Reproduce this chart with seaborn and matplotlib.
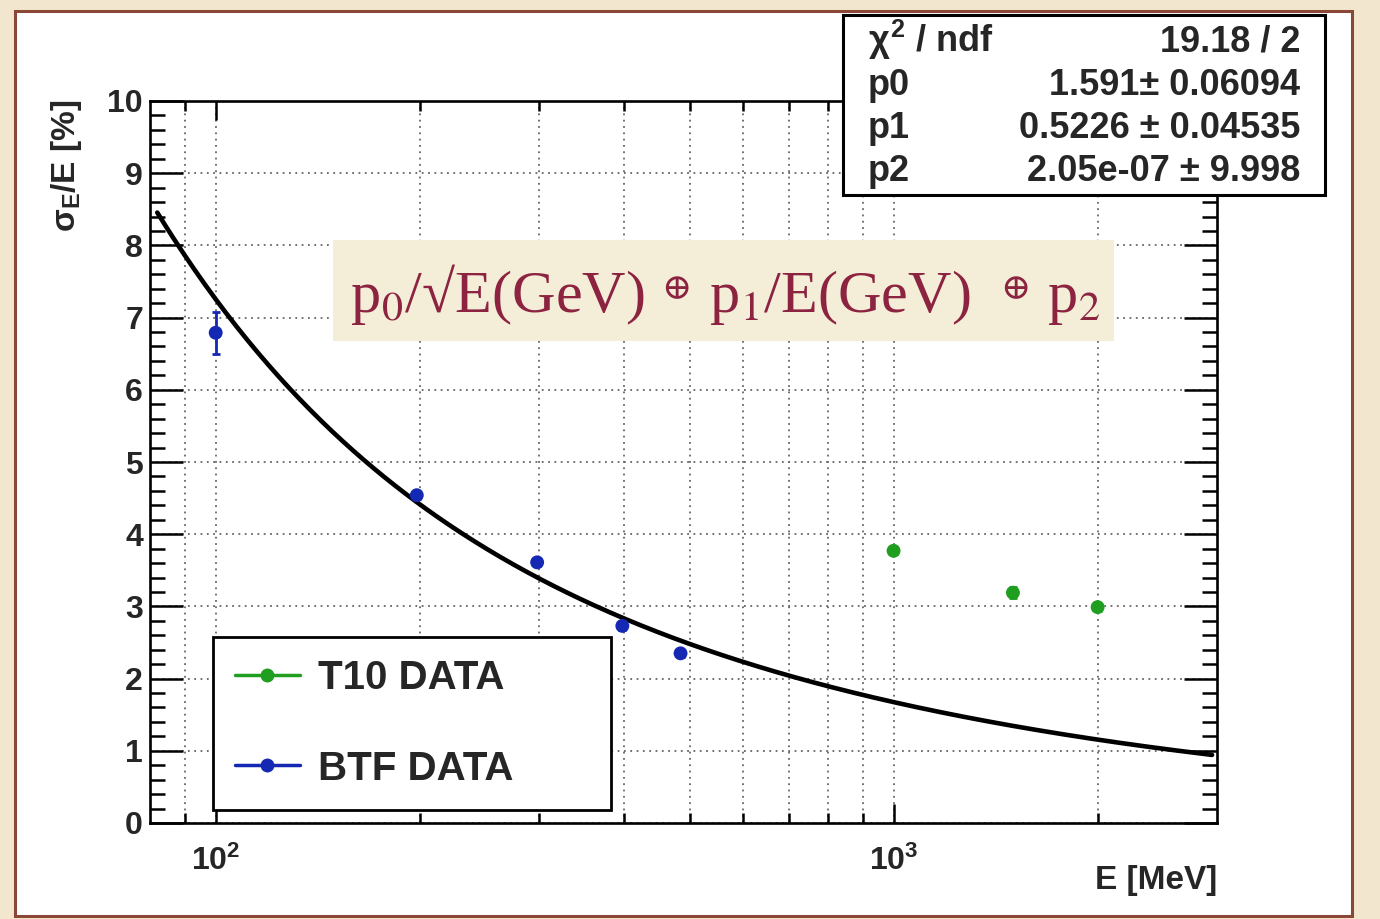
import numpy as np
import pandas as pd
import matplotlib
matplotlib.use("Agg")
import matplotlib.pyplot as plt
from matplotlib.patches import Rectangle
from matplotlib.lines import Line2D
from matplotlib.ticker import FixedLocator, FixedFormatter, MultipleLocator, NullFormatter
import seaborn as sns

# ---- measured energy resolution ----
t10_energy = [1000, 1500, 2000]          # MeV
t10_res = [3.77, 3.19, 2.99]             # sigma_E/E [%]
t10_err = [0.05, 0.08, 0.05]

btf_energy = [100, 198, 298, 398, 485]   # MeV
btf_res = [6.79, 4.54, 3.61, 2.73, 2.35]
btf_err = [0.29, 0.05, 0.05, 0.05, 0.05]

# ---- fit result: p0/sqrt(E) (+) p1/E (+) p2, E in GeV ----
fit_names = ["p0", "p1", "p2"]
fit_values = [1.591, 0.5226, 2.05e-07]
fit_value_text = ["1.591", "0.5226 ", "2.05e-07 "]
fit_error_text = ["0.06094", "0.04535", "9.998"]
chi2_text = "19.18 / 2"
fit_range = (82, 2950)                   # MeV

y_major = list(range(0, 11))
x_major = [100, 1000]
x_major_labels = [r"$10^{2}$", r"$10^{3}$"]
x_minor = [90, 200, 300, 400, 500, 600, 700, 800, 900, 2000]

GREEN = "#1f9e1f"
BLUE = "#1428b4"
FORMULA_RED = "#8C2340"

sns.set_theme(style="ticks")
plt.rcParams["font.family"] = ["Liberation Sans", "DejaVu Sans"]
plt.rcParams["font.weight"] = "normal"
plt.rcParams["mathtext.fontset"] = "custom"
plt.rcParams["mathtext.rm"] = "Liberation Sans:bold"
plt.rcParams["mathtext.it"] = "Liberation Sans:bold"
plt.rcParams["mathtext.bf"] = "Liberation Sans:bold"

W, H = 1380, 919
fig = plt.figure(figsize=(W / 100, H / 100), dpi=100)
fig.patch.set_facecolor("#F2E7CE")
renderer = fig.canvas.get_renderer()

def fx(px):
    return px / W

def fy(py):
    return 1 - py / H

# white panel with brown frame
fig.add_artist(Rectangle((fx(15), fy(916)), fx(1352) - fx(15), fy(11) - fy(916),
                         transform=fig.transFigure, facecolor="white",
                         edgecolor="#8A4636", lw=2.2, zorder=-5))

ax = fig.add_axes([fx(150), fy(823), fx(1217) - fx(150), fy(101) - fy(823)])
ax.set_facecolor("white")

# fit curve from the fitted parameters
p0, p1, p2 = fit_values
e_mev = np.geomspace(fit_range[0], fit_range[1], 400)
e_gev = e_mev / 1000.0
fit_df = pd.DataFrame({
    "E": e_mev,
    "res": np.sqrt((p0 / np.sqrt(e_gev)) ** 2 + (p1 / e_gev) ** 2 + p2 ** 2),
})
sns.lineplot(data=fit_df, x="E", y="res", color="black", lw=3.3,
             estimator=None, sort=False, ax=ax, zorder=4)

# data points
pts = pd.concat([
    pd.DataFrame({"E": t10_energy, "res": t10_res, "err": t10_err, "set": "T10 DATA"}),
    pd.DataFrame({"E": btf_energy, "res": btf_res, "err": btf_err, "set": "BTF DATA"}),
], ignore_index=True)
palette = {"T10 DATA": GREEN, "BTF DATA": BLUE}
for name, grp in pts.groupby("set"):
    ax.errorbar(grp["E"], grp["res"], yerr=grp["err"], fmt="none",
                ecolor=palette[name], elinewidth=2, capsize=3, capthick=2, zorder=5)
sns.scatterplot(data=pts, x="E", y="res", hue="set", palette=palette,
                s=100, edgecolor="none", legend=False, ax=ax, zorder=6)

ax.set_xscale("log")
ax.set_xlim(80, 3000)
ax.set_ylim(0, 10)
ax.set_xlabel("")
ax.set_ylabel("")

ax.xaxis.set_major_locator(FixedLocator(x_major))
ax.xaxis.set_major_formatter(FixedFormatter(x_major_labels))
ax.xaxis.set_minor_locator(FixedLocator(x_minor))
ax.xaxis.set_minor_formatter(NullFormatter())
ax.yaxis.set_major_locator(FixedLocator(y_major))
ax.yaxis.set_minor_locator(MultipleLocator(0.2))

ax.tick_params(axis="both", which="both", direction="in", top=True, right=True,
               width=1.8, color="black", labelsize=23)
ax.tick_params(axis="y", which="major", length=24, pad=5)
ax.tick_params(axis="y", which="minor", length=11)
ax.tick_params(axis="x", which="major", length=14, pad=16)
ax.tick_params(axis="x", which="minor", length=7)
for lab in ax.get_xticklabels() + ax.get_yticklabels():
    lab.set_fontweight("bold")

for sp in ax.spines.values():
    sp.set_linewidth(1.9)
    sp.set_color("black")

ax.grid(True, axis="x", which="both", linestyle=(0, (1, 2.5)), color="#666666", lw=1.3)
ax.grid(True, axis="y", which="major", linestyle=(0, (1, 2.5)), color="#666666", lw=1.3)
ax.set_axisbelow(True)

# axis titles
fig.text(fx(1217), fy(880), "E [MeV]", ha="right", va="center",
         fontsize=24, fontweight="bold")
fig.text(fx(66), fy(100), r"$\mathregular{\sigma_E}$/E [%]", ha="center", va="top",
         rotation=90, fontsize=24, fontweight="bold")

# legend
handles = [
    Line2D([], [], color=GREEN, lw=2.5, marker="o", ms=9),
    Line2D([], [], color=BLUE, lw=2.5, marker="o", ms=9),
]
leg = ax.legend(handles, ["T10 DATA", "BTF DATA"], loc="upper left",
                bbox_to_anchor=(fx(213), fy(810), fx(611) - fx(213), fy(637) - fy(810)),
                bbox_transform=fig.transFigure, mode="expand", borderaxespad=0,
                prop={"size": 29, "weight": "bold"}, frameon=True, fancybox=False,
                framealpha=1, edgecolor="black", handlelength=1.6,
                handletextpad=0.45, labelspacing=1.3, borderpad=0.55)
leg.get_frame().set_linewidth(2)
leg.set_zorder(8)

# formula banner: pieces laid out left to right, fitted to the banner width
fig.add_artist(Rectangle((fx(333), fy(341)), fx(1114) - fx(333), fy(240) - fy(341),
                         transform=fig.transFigure, facecolor="#F4EDD8",
                         edgecolor="none", zorder=3))
formula_pieces = [
    ("p$_\\mathrm{0}$/\u221aE(GeV)", 1.0, 0.0),
    ("\u2295", 0.6, 0.22),
    ("p$_\\mathrm{1}$/E(GeV)", 1.0, 0.0),
    ("\u2295", 0.6, 0.22),
    ("p$_\\mathrm{2}$", 1.0, 0.0),
]
gaps_em = [0.28, 0.28, 0.50, 0.28]     # spacing after each piece, in em
base_size = 44.0
x_left_px, x_right_px, baseline_px = 350, 1100, 312
serif = ["Liberation Serif", "DejaVu Serif"]

def measure(size):
    widths = []
    for s, rel, _ in formula_pieces:
        t = fig.text(0, 0, s, fontsize=size * rel, family=serif,
                     math_fontfamily="stix", fontweight="normal")
        widths.append(t.get_window_extent(renderer).width)
        t.remove()
    return widths

w = measure(base_size)
em_px = base_size * 100 / 72
total = sum(w) + sum(g * em_px for g in gaps_em)
size = base_size * (x_right_px - x_left_px) / total
w = measure(size)
em_px = size * 100 / 72
x = x_left_px
for i, (s, rel, lift) in enumerate(formula_pieces):
    fig.text(fx(x), fy(baseline_px - lift * em_px), s,
             fontsize=size * rel, family=serif,
             math_fontfamily="stix", fontweight="normal", color=FORMULA_RED,
             ha="left", va="baseline", zorder=4)
    x += w[i] + (gaps_em[i] * em_px if i < len(gaps_em) else 0)

# fit statistics box
fig.add_artist(Rectangle((fx(843), fy(195)), fx(1325) - fx(843), fy(15) - fy(195),
                         transform=fig.transFigure, facecolor="white",
                         edgecolor="black", lw=2.2, zorder=5))
rows_left = [r"$\chi^{2}$ / ndf"] + fit_names
rows_right = [chi2_text] + [f"{v}\u00b1 {e}" for v, e in zip(fit_value_text, fit_error_text)]
baselines = [52, 95, 138, 181]
for yl, tl, tr in zip(baselines, rows_left, rows_right):
    fig.text(fx(868), fy(yl), tl, ha="left", va="baseline", fontsize=26,
             fontweight="bold", zorder=6)
    fig.text(fx(1300), fy(yl), tr, ha="right", va="baseline", fontsize=26,
             fontweight="bold", zorder=6)

fig.savefig("out.png", dpi=100, facecolor=fig.get_facecolor())
